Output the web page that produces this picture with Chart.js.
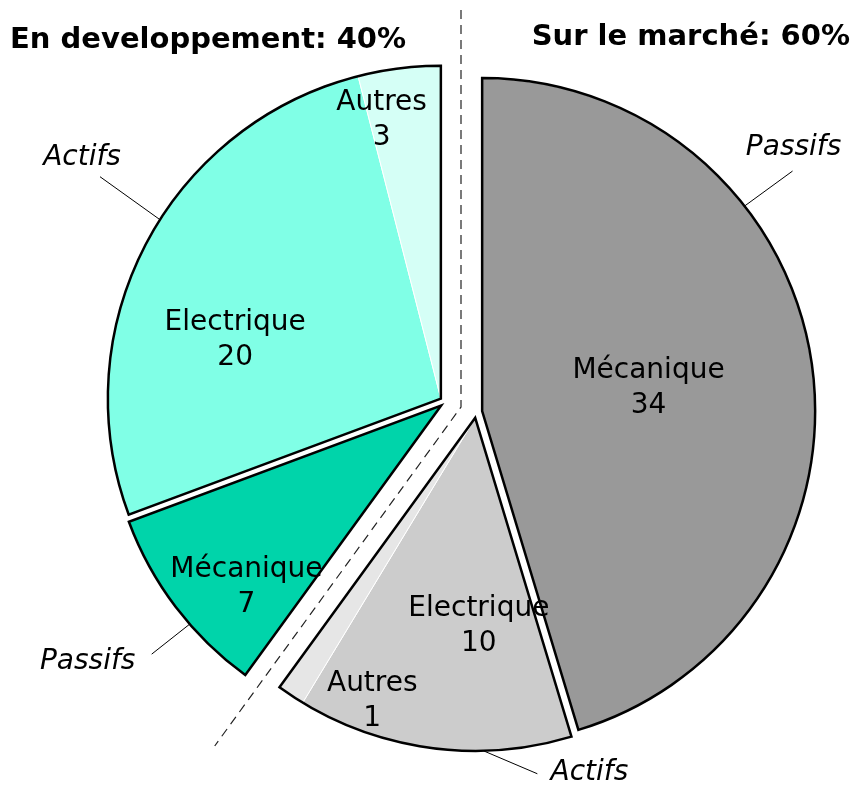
<!DOCTYPE html>
<html>
<head>
<meta charset="utf-8">
<script src="https://cdn.jsdelivr.net/npm/chart.js@4.4.1/dist/chart.umd.min.js"></script>
<style>
  html, body { margin: 0; padding: 0; background: #fff; }
</style>
</head>
<body>
<canvas id="pie" width="856" height="786"></canvas>
<script>
// data
const categories = ["Mécanique", "Electrique", "Autres", "Mécanique", "Electrique", "Autres"];
const counts = [34, 10, 1, 7, 20, 3];
const stages = ["Sur le marché", "Sur le marché", "Sur le marché", "En developpement", "En developpement", "En developpement"];
const kinds = ["Passifs", "Actifs", "Actifs", "Passifs", "Actifs", "Actifs"];

// styling
const sliceColors = ["#999999", "#cccccc", "#e6e6e6", "#00d4aa", "#80ffe6", "#d5fff6"];
const FONT = "'DejaVu Sans', Verdana, sans-serif";
const GROUP_GAP = 16;   // shift of each stage group
const SUB_GAP = 6;      // extra shift of passifs / actifs inside a group
// label spot: clock angle (deg) and distance from the slice apex
const labelSpots = [[82, 168], [179, 208], [200, 301], [227, 266], [286, 214], [348, 285]];
// callouts: rim clock angle, line end offset, text offset
const callouts = [
  { slice: 0, at: 52, end: [48, -35], txt: [49, -58] },
  { slice: 4, at: 302.5, end: [-60, -43], txt: [-78, -62] },
  { slice: 3, at: 229, end: [-38, 30], txt: [-102, 38] },
  { slice: 1, at: 178.6, end: [54, 23], txt: [106, 22] }
];

const total = counts.reduce((a, b) => a + b, 0);

// stage groups, each split in passifs / actifs runs
function buildGroups() {
  const groups = [];
  stages.forEach((s, i) => {
    let g = groups.find(x => x.name === s);
    if (!g) { g = { name: s, members: [], subs: [] }; groups.push(g); }
    g.members.push(i);
    const last = g.subs[g.subs.length - 1];
    if (last && kinds[last[0]] === kinds[i]) last.push(i);
    else g.subs.push([i]);
  });
  return groups;
}
const groups = buildGroups();

const clock = a => (a - 90) * Math.PI / 180;

const explodePlugin = {
  id: "explode",
  beforeDatasetsDraw(chart) {
    const arcs = chart.getDatasetMeta(0).data;
    const ca = chart.chartArea;
    const cx = (ca.left + ca.right) / 2, cy = (ca.top + ca.bottom) / 2;
    groups.forEach(g => {
      const gm = (arcs[g.members[0]].startAngle + arcs[g.members[g.members.length - 1]].endAngle) / 2;
      g.subs.forEach(sub => {
        const sm = (arcs[sub[0]].startAngle + arcs[sub[sub.length - 1]].endAngle) / 2;
        const dx = GROUP_GAP * Math.cos(gm) + SUB_GAP * Math.cos(sm);
        const dy = GROUP_GAP * Math.sin(gm) + SUB_GAP * Math.sin(sm);
        sub.forEach(i => { arcs[i].x = cx + dx; arcs[i].y = cy + dy; });
      });
    });

    // dashed separation along the group borders
    const ctx = chart.ctx;
    const r = arcs[0].outerRadius;
    ctx.save();
    ctx.strokeStyle = "#222";
    ctx.lineWidth = 1.2;
    ctx.setLineDash([9, 6]);
    ctx.beginPath();
    const a0 = arcs[0].startAngle;
    const a1 = arcs[groups[0].members[groups[0].members.length - 1]].endAngle;
    ctx.moveTo(cx + Math.cos(a0) * (r + 64), cy + Math.sin(a0) * (r + 64));
    ctx.lineTo(cx, cy);
    ctx.lineTo(cx + Math.cos(a1) * (r + 86), cy + Math.sin(a1) * (r + 86));
    ctx.stroke();
    ctx.restore();
  },
  afterDatasetsDraw(chart) {
    const ctx = chart.ctx;
    const arcs = chart.getDatasetMeta(0).data;

    // black outline around each passifs / actifs run
    ctx.save();
    ctx.strokeStyle = "#000";
    ctx.lineWidth = 2.5;
    ctx.lineJoin = "miter";
    groups.forEach(g => g.subs.forEach(sub => {
      const first = arcs[sub[0]], last = arcs[sub[sub.length - 1]];
      ctx.beginPath();
      ctx.moveTo(first.x, first.y);
      ctx.arc(first.x, first.y, first.outerRadius, first.startAngle, last.endAngle);
      ctx.closePath();
      ctx.stroke();
    }));
    ctx.restore();

    // slice labels
    ctx.save();
    ctx.fillStyle = "#000";
    ctx.textAlign = "center";
    ctx.textBaseline = "middle";
    ctx.font = "28px " + FONT;
    arcs.forEach((arc, i) => {
      const [ang, dist] = labelSpots[i];
      const x = arc.x + Math.cos(clock(ang)) * dist;
      const y = arc.y + Math.sin(clock(ang)) * dist;
      ctx.fillText(categories[i], x, y - 17);
      ctx.fillText(String(counts[i]), x, y + 18);
    });
    ctx.restore();

    // callouts
    ctx.save();
    ctx.strokeStyle = "#000";
    ctx.lineWidth = 1;
    ctx.fillStyle = "#000";
    ctx.font = "italic 28px " + FONT;
    ctx.textAlign = "center";
    ctx.textBaseline = "middle";
    callouts.forEach(c => {
      const arc = arcs[c.slice];
      const px = arc.x + Math.cos(clock(c.at)) * arc.outerRadius;
      const py = arc.y + Math.sin(clock(c.at)) * arc.outerRadius;
      ctx.beginPath();
      ctx.moveTo(px, py);
      ctx.lineTo(px + c.end[0], py + c.end[1]);
      ctx.stroke();
      ctx.fillText(kinds[c.slice], px + c.txt[0], py + c.txt[1]);
    });
    ctx.restore();

    // group titles
    ctx.save();
    ctx.fillStyle = "#000";
    ctx.font = "bold 29px " + FONT;
    ctx.textBaseline = "middle";
    const pct = g => Math.round(g.members.reduce((s, i) => s + counts[i], 0) / total * 100);
    const dev = groups.find(g => g.name === "En developpement");
    const mkt = groups.find(g => g.name === "Sur le marché");
    ctx.textAlign = "left";
    ctx.fillText(dev.name + ": " + pct(dev) + "%", 10, 40);
    ctx.textAlign = "right";
    ctx.fillText(mkt.name + ": " + pct(mkt) + "%", 850, 37);
    ctx.restore();
  }
};

new Chart(document.getElementById("pie").getContext("2d"), {
  type: "pie",
  data: {
    labels: categories,
    datasets: [{
      data: counts,
      backgroundColor: sliceColors,
      borderColor: "#ffffff",
      borderWidth: 1,
      radius: 333
    }]
  },
  options: {
    responsive: false,
    animation: false,
    events: [],
    layout: { padding: { left: 66, top: 28, right: 0, bottom: 0 } },
    plugins: {
      legend: { display: false },
      tooltip: { enabled: false }
    }
  },
  plugins: [explodePlugin]
});
</script>
</body>
</html>
